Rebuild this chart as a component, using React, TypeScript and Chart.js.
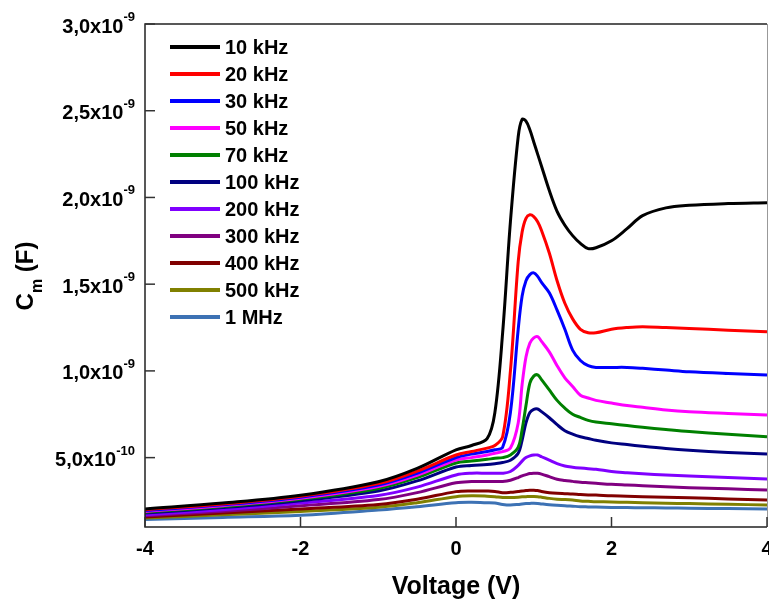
import React, { useEffect, useRef } from "react";
import { Chart, registerables } from "chart.js";

Chart.register(...registerables);

// Voltage grid (V)
const voltages = [-4, -3, -2, -1, -0.5, 0, 0.2, 0.4, 0.5, 0.6, 0.7, 0.8, 0.85, 0.9, 0.95, 1.0, 1.05, 1.1, 1.2, 1.3, 1.4, 1.5, 1.6, 1.7, 1.8, 2.0, 2.2, 2.4, 2.7, 3.0, 3.5, 4.0];

// Capacitance values in units of 1e-10 F
const c10k = [2.04, 2.38, 2.83, 3.61, 4.38, 5.45, 5.7, 6.1, 7.6, 12.2, 18.6, 23.5, 24.5, 24.4, 23.9, 23.2, 22.5, 21.8, 20.4, 19.2, 18.4, 17.8, 17.35, 17.05, 17.1, 17.5, 18.2, 18.95, 19.4, 19.55, 19.65, 19.7];
const c20k = [2.0, 2.33, 2.77, 3.5, 4.22, 5.15, 5.35, 5.55, 5.7, 6.2, 10.0, 16.3, 18.0, 18.8, 19.0, 18.9, 18.6, 18.1, 16.8, 15.2, 13.9, 13.0, 12.4, 12.2, 12.2, 12.4, 12.5, 12.55, 12.5, 12.45, 12.35, 12.25];
const c30k = [1.95, 2.28, 2.72, 3.42, 4.1, 5.0, 5.2, 5.35, 5.45, 5.6, 7.6, 12.4, 14.3, 15.2, 15.55, 15.65, 15.45, 15.1, 14.5, 13.5, 12.4, 11.2, 10.6, 10.3, 10.2, 10.2, 10.2, 10.15, 10.05, 9.95, 9.85, 9.77];
const c50k = [1.9, 2.23, 2.66, 3.33, 3.98, 4.86, 5.0, 5.15, 5.25, 5.35, 5.55, 7.0, 9.2, 10.8, 11.6, 11.9, 11.97, 11.7, 11.1, 10.3, 9.6, 9.1, 8.6, 8.44, 8.3, 8.15, 8.0, 7.9, 7.75, 7.65, 7.55, 7.46];
const c70k = [1.85, 2.18, 2.6, 3.22, 3.85, 4.69, 4.8, 4.9, 4.96, 5.0, 5.15, 5.6, 6.6, 8.0, 9.3, 9.7, 9.77, 9.5, 8.9, 8.3, 7.85, 7.5, 7.32, 7.15, 7.05, 6.95, 6.85, 6.75, 6.62, 6.5, 6.35, 6.2];
const c100k = [1.8, 2.12, 2.52, 3.08, 3.66, 4.46, 4.55, 4.6, 4.65, 4.72, 4.85, 5.25, 6.0, 7.0, 7.6, 7.78, 7.8, 7.65, 7.3, 6.9, 6.55, 6.35, 6.2, 6.1, 6.0, 5.85, 5.75, 5.65, 5.52, 5.42, 5.3, 5.21];
const c200k = [1.7, 2.0, 2.38, 2.82, 3.3, 4.0, 4.1, 4.1, 4.1, 4.1, 4.2, 4.55, 4.8, 5.0, 5.1, 5.15, 5.15, 5.05, 4.85, 4.65, 4.52, 4.45, 4.4, 4.36, 4.33, 4.2, 4.13, 4.07, 4.0, 3.94, 3.85, 3.77];
const c300k = [1.65, 1.91, 2.22, 2.58, 2.98, 3.55, 3.62, 3.63, 3.62, 3.63, 3.7, 3.85, 3.95, 4.02, 4.08, 4.1, 4.1, 4.05, 3.9, 3.75, 3.68, 3.63, 3.58, 3.55, 3.52, 3.46, 3.42, 3.38, 3.32, 3.27, 3.2, 3.13];
const c400k = [1.58, 1.8, 2.04, 2.3, 2.6, 3.04, 3.08, 3.07, 3.05, 2.98, 3.0, 3.05, 3.08, 3.1, 3.12, 3.12, 3.1, 3.05, 2.98, 2.94, 2.92, 2.9, 2.87, 2.85, 2.84, 2.8, 2.78, 2.75, 2.71, 2.68, 2.62, 2.56];
const c500k = [1.52, 1.7, 1.9, 2.14, 2.4, 2.75, 2.8, 2.78, 2.75, 2.7, 2.7, 2.72, 2.74, 2.75, 2.76, 2.76, 2.75, 2.72, 2.65, 2.6, 2.58, 2.55, 2.5, 2.48, 2.46, 2.44, 2.42, 2.4, 2.37, 2.35, 2.31, 2.27];
const c1M = [1.43, 1.55, 1.68, 1.98, 2.17, 2.4, 2.42, 2.4, 2.38, 2.3, 2.27, 2.3, 2.33, 2.35, 2.36, 2.37, 2.36, 2.33, 2.28, 2.25, 2.23, 2.2, 2.17, 2.16, 2.15, 2.13, 2.12, 2.11, 2.1, 2.08, 2.06, 2.04];

const UNIT = 1e-10;

const seriesLabels = ["10 kHz", "20 kHz", "30 kHz", "50 kHz", "70 kHz", "100 kHz", "200 kHz", "300 kHz", "400 kHz", "500 kHz", "1 MHz"];
const seriesColors = ["#000000", "#ff0000", "#0000ff", "#ff00ff", "#008000", "#000080", "#8000ff", "#800080", "#800000", "#808000", "#3d72b4"];

const xTickValues = [-4, -2, 0, 2, 4];
const xTickLabels = ["-4", "-2", "0", "2", "4"];
const yTickValues = [5e-10, 1e-9, 1.5e-9, 2e-9, 2.5e-9, 3e-9];
const yTickMantissas = ["5,0", "1,0", "1,5", "2,0", "2,5", "3,0"];
const yTickExponents = ["-10", "-9", "-9", "-9", "-9", "-9"];

const xTitle = "Voltage (V)";
const yTitleMain = "C";
const yTitleSub = "m";
const yTitleRest = " (F)";

const FONT = '"Liberation Sans", Arial, sans-serif';

export default function App() {
  const ref = useRef<HTMLCanvasElement>(null);

  useEffect(() => {
    if (!ref.current) return;
    const series = [c10k, c20k, c30k, c50k, c70k, c100k, c200k, c300k, c400k, c500k, c1M];
    const datasets = series.map((vals, i) => ({
      label: seriesLabels[i],
      data: voltages.map((v, j) => ({ x: v, y: vals[j] * UNIT })),
      borderColor: seriesColors[i],
      backgroundColor: seriesColors[i],
      borderWidth: 3,
      pointRadius: 0,
      tension: 0.35,
      fill: false,
    }));

    const decor = {
      id: "decor",
      afterDraw(chart: any) {
        const ctx = chart.ctx as CanvasRenderingContext2D;
        const a = chart.chartArea;
        const xs = chart.scales.x;
        const ys = chart.scales.y;
        ctx.save();
        // frame
        ctx.strokeStyle = "#222";
        ctx.lineWidth = 1.5;
        ctx.beginPath();
        ctx.moveTo(a.right, a.top);
        ctx.lineTo(a.left, a.top);
        ctx.lineTo(a.left, a.bottom);
        ctx.lineTo(a.right, a.bottom);
        ctx.stroke();
        ctx.strokeStyle = "#999";
        ctx.lineWidth = 1;
        ctx.beginPath();
        ctx.moveTo(a.right + 0.5, a.top);
        ctx.lineTo(a.right + 0.5, a.bottom);
        ctx.stroke();

        // inward ticks
        ctx.strokeStyle = "#333";
        ctx.lineWidth = 1.5;
        xTickValues.forEach((v) => {
          const px = xs.getPixelForValue(v);
          ctx.beginPath();
          ctx.moveTo(px, a.bottom);
          ctx.lineTo(px, a.bottom - 10);
          ctx.stroke();
        });
        yTickValues.forEach((v) => {
          const py = ys.getPixelForValue(v);
          ctx.beginPath();
          ctx.moveTo(a.left, py);
          ctx.lineTo(a.left + 10, py);
          ctx.stroke();
        });

        // x tick labels
        ctx.fillStyle = "#000";
        ctx.font = `bold 20px ${FONT}`;
        ctx.textAlign = "center";
        ctx.textBaseline = "alphabetic";
        xTickValues.forEach((v, i) => {
          ctx.fillText(xTickLabels[i], xs.getPixelForValue(v), 555);
        });

        // y tick labels with superscript exponent
        const rightEdge = a.left - 10;
        yTickValues.forEach((v, i) => {
          const py = ys.getPixelForValue(v);
          ctx.font = `bold 13px ${FONT}`;
          const supW = ctx.measureText(yTickExponents[i]).width;
          ctx.textAlign = "left";
          ctx.fillText(yTickExponents[i], rightEdge - supW, py - 3);
          ctx.font = `bold 20px ${FONT}`;
          const mainText = yTickMantissas[i] + "x10";
          const mainW = ctx.measureText(mainText).width;
          ctx.fillText(mainText, rightEdge - supW - mainW, py + 8.5);
        });

        // x title
        ctx.font = `bold 25px ${FONT}`;
        ctx.textAlign = "center";
        ctx.fillText(xTitle, (a.left + a.right) / 2, 594);

        // y title (rotated)
        ctx.save();
        const mainFont = `bold 24px ${FONT}`;
        const subFont = `bold 16px ${FONT}`;
        ctx.font = mainFont;
        const wC = ctx.measureText(yTitleMain).width;
        const wRest = ctx.measureText(yTitleRest).width;
        ctx.font = subFont;
        const wSub = ctx.measureText(yTitleSub).width;
        const total = wC + wSub + wRest;
        const centerY = 276;
        ctx.translate(33, centerY + total / 2);
        ctx.rotate(-Math.PI / 2);
        ctx.textAlign = "left";
        ctx.font = mainFont;
        ctx.fillText(yTitleMain, 0, 0);
        ctx.font = subFont;
        ctx.fillText(yTitleSub, wC, 9);
        ctx.font = mainFont;
        ctx.fillText(yTitleRest, wC + wSub, 0);
        ctx.restore();

        // legend
        ctx.font = `bold 20px ${FONT}`;
        ctx.textAlign = "left";
        ctx.textBaseline = "middle";
        chart.data.datasets.forEach((ds: any, i: number) => {
          const y = 47 + i * 27;
          ctx.strokeStyle = ds.borderColor;
          ctx.lineWidth = 4;
          ctx.beginPath();
          ctx.moveTo(170, y);
          ctx.lineTo(220, y);
          ctx.stroke();
          ctx.fillStyle = "#000";
          ctx.fillText(ds.label, 225, y + 1);
        });
        ctx.restore();
      },
    };

    const chart = new Chart(ref.current, {
      type: "line",
      data: { datasets },
      options: {
        animation: false,
        responsive: false,
        devicePixelRatio: 1,
        layout: { padding: { left: 145, top: 24, right: 2, bottom: 76 } },
        scales: {
          x: { type: "linear", min: -4, max: 4, display: false },
          y: { type: "linear", min: 1e-10, max: 3e-9, display: false },
        },
        plugins: {
          legend: { display: false },
          tooltip: { enabled: false },
        },
      },
      plugins: [decor],
    });
    return () => chart.destroy();
  }, []);

  return (
    <div style={{ position: "fixed", left: 0, top: 0, width: 769, height: 603, background: "#fff" }}>
      <canvas ref={ref} width={769} height={603} style={{ width: 769, height: 603, display: "block" }} />
    </div>
  );
}
